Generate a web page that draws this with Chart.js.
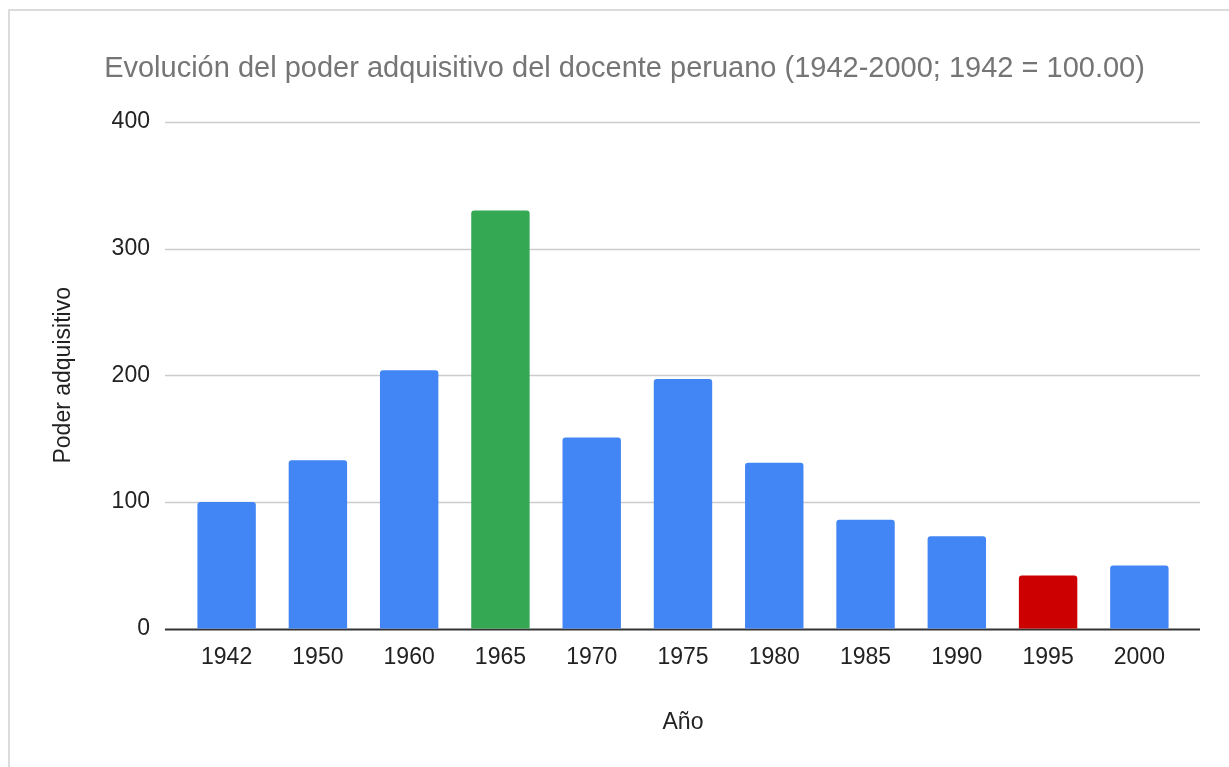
<!DOCTYPE html>
<html>
<head>
<meta charset="utf-8">
<script src="https://cdn.jsdelivr.net/npm/chart.js@4"></script>
<style>
    html, body { margin: 0; padding: 0; background: #fff; }
    #wrap { position: relative; width: 1229px; height: 767px; }
    #frame {
        position: absolute; left: 8px; top: 9px; right: 0; bottom: 0;
        border-top: 2px solid #dcdcdc; border-left: 2px solid #dcdcdc;
        pointer-events: none;
    }
</style>
</head>
<body>
<div id="wrap">
    <canvas id="chart" width="1229" height="767"></canvas>
    <div id="frame"></div>
</div>
<script>
const years = ['1942', '1950', '1960', '1965', '1970', '1975', '1980', '1985', '1990', '1995', '2000'];
const poderAdquisitivo = [100, 133, 204, 330, 151, 197, 131, 86, 73, 42, 50];
const barColors = ['#4285f4', '#4285f4', '#4285f4', '#34a853', '#4285f4', '#4285f4',
                   '#4285f4', '#4285f4', '#4285f4', '#cc0000', '#4285f4'];
const yTicks = [0, 100, 200, 300, 400];

const chartTitle = 'Evolución del poder adquisitivo del docente peruano (1942-2000; 1942 = 100.00)';
const FONT = "'Liberation Sans', Arial, sans-serif";

// google-style gridlines reaching a bit past the bars, dark baseline at 0
const gridPlugin = {
    id: 'wideGrid',
    beforeDatasetsDraw(chart) {
        const ctx = chart.ctx;
        const area = chart.chartArea;
        const y = chart.scales.y;
        ctx.save();
        yTicks.forEach(v => {
            const py = Math.round(y.getPixelForValue(v)) + 0.5;
            ctx.beginPath();
            ctx.strokeStyle = v === 0 ? '#333333' : '#cccccc';
            ctx.lineWidth = v === 0 ? 2 : 1.5;
            ctx.moveTo(area.left - 16, py);
            ctx.lineTo(area.right + 15, py);
            ctx.stroke();
        });
        ctx.restore();
    }
};

new Chart(document.getElementById('chart'), {
    type: 'bar',
    data: {
        labels: years,
        datasets: [{
            label: 'Poder adquisitivo',
            data: poderAdquisitivo,
            backgroundColor: barColors,
            borderRadius: { topLeft: 3, topRight: 3 },
            borderSkipped: 'bottom',
            barPercentage: 0.64,
            categoryPercentage: 1.0
        }]
    },
    options: {
        responsive: false,
        animation: false,
        layout: { padding: { left: 20, right: 0, top: 0, bottom: 0 } },
        plugins: {
            legend: { display: false },
            tooltip: { enabled: false },
            title: {
                display: true,
                text: chartTitle,
                color: '#757575',
                font: { family: FONT, size: 29, weight: 'normal' },
                padding: { top: 52, bottom: 35 }
            }
        },
        scales: {
            y: {
                min: 0,
                max: 400,
                afterBuildTicks: (scale) => { scale.ticks = yTicks.map(v => ({ value: v })); },
                grid: { display: false, drawTicks: false },
                border: { display: false },
                ticks: {
                    color: '#222222',
                    font: { family: FONT, size: 23 },
                    padding: 31
                },
                title: {
                    display: true,
                    text: 'Poder adquisitivo',
                    color: '#222222',
                    font: { family: FONT, size: 23 },
                    padding: { top: 30, bottom: 3 }
                }
            },
            // empty right gutter so the title stays centred on the whole canvas
            gutter: {
                position: 'right',
                display: true,
                grid: { display: false, drawTicks: false },
                border: { display: false },
                ticks: { display: false },
                afterFit: (scale) => { scale.width = 44; }
            },
            x: {
                grid: { display: false, drawTicks: false },
                border: { display: false },
                ticks: {
                    color: '#222222',
                    font: { family: FONT, size: 23 },
                    padding: 15,
                    maxRotation: 0
                },
                title: {
                    display: true,
                    text: 'Año',
                    color: '#222222',
                    font: { family: FONT, size: 23 },
                    padding: { top: 22, bottom: 31 }
                }
            }
        }
    },
    plugins: [gridPlugin]
});
</script>
</body>
</html>
